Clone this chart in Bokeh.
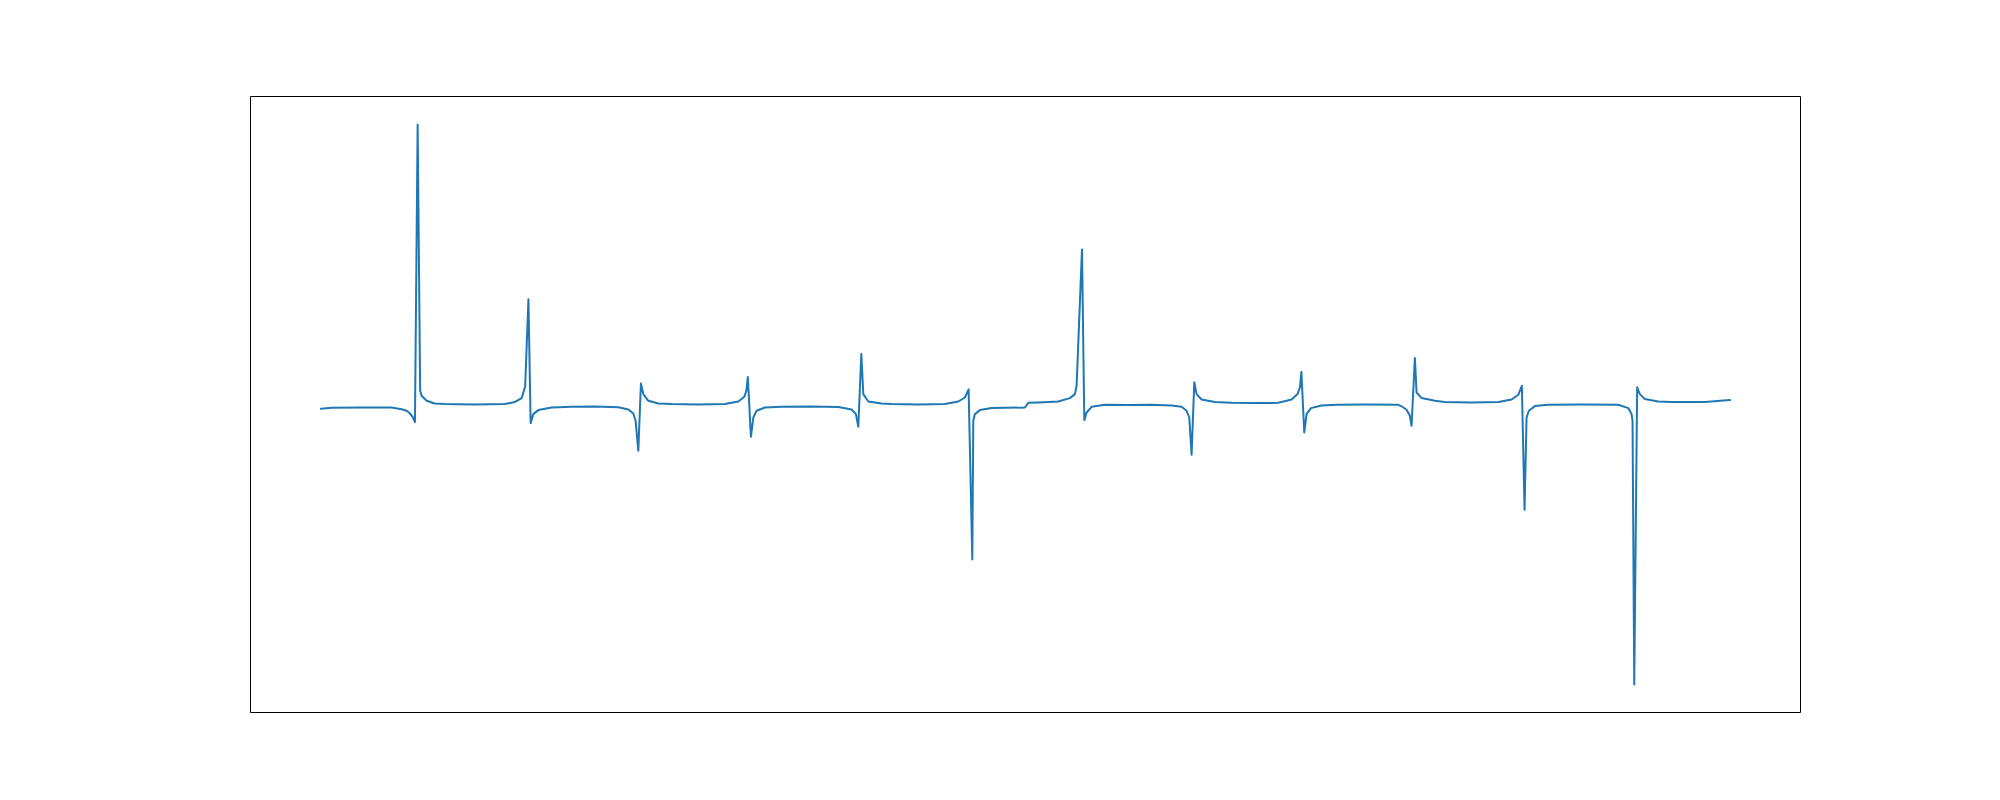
from bokeh.plotting import figure
from bokeh.models import Range1d
from bokeh.embed import file_html
from bokeh.resources import INLINE

# signal samples (time, amplitude)
t = [0.000, 0.107, 0.407, 0.707, 0.807, 0.857, 0.890, 0.917, 0.940, 0.967,
     0.992, 1.007, 1.057, 1.137, 1.237, 1.537, 1.837, 1.937, 2.007, 2.042,
     2.075, 2.097, 2.124, 2.174, 2.307, 2.507, 2.740, 2.974, 3.074, 3.124,
     3.147, 3.174, 3.200, 3.224, 3.274, 3.374, 3.507, 3.774, 4.040, 4.174,
     4.234, 4.254, 4.269, 4.300, 4.324, 4.357, 4.440, 4.607, 4.890, 5.174,
     5.307, 5.350, 5.374, 5.404, 5.424, 5.474, 5.607, 5.707, 5.974, 6.240,
     6.374, 6.440, 6.477, 6.514, 6.524, 6.540, 6.590, 6.707, 7.040, 7.074,
     7.174, 7.374, 7.490, 7.540, 7.557, 7.611, 7.634, 7.657, 7.707, 7.840,
     8.074, 8.307, 8.507, 8.607, 8.657, 8.684, 8.707, 8.734, 8.757, 8.807,
     8.940, 9.107, 9.340, 9.574, 9.707, 9.767, 9.790, 9.805, 9.834, 9.857,
     9.900, 10.007, 10.157, 10.465, 10.774, 10.807, 10.857, 10.890, 10.907, 10.940,
     10.957, 11.007, 11.140, 11.237, 11.507, 11.777, 11.907, 11.974, 12.010, 12.037,
     12.057, 12.080, 12.140, 12.274, 12.624, 12.974, 13.074, 13.107, 13.117, 13.134,
     13.163, 13.190, 13.240, 13.374, 13.507, 13.840, 14.092]

amplitude = [-0.40, -0.30, -0.27, -0.28, -0.45, -0.60, -0.87, -1.20, -1.73, 28.03,
             1.40, 0.90, 0.40, 0.13, 0.07, 0.02, 0.07, 0.27, 0.67, 1.80,
             10.55, -1.83, -0.93, -0.53, -0.27, -0.20, -0.17, -0.25, -0.47, -0.87,
             -1.60, -4.60, 2.13, 1.07, 0.40, 0.13, 0.07, 0.03, 0.07, 0.33,
             0.80, 1.40, 2.77, -3.20, -1.27, -0.60, -0.27, -0.20, -0.17, -0.22,
             -0.47, -0.93, -2.20, 5.07, 1.07, 0.33, 0.13, 0.07, 0.03, 0.07,
             0.33, 0.73, 1.55, -15.47, -1.60, -0.93, -0.53, -0.33, -0.27, 0.20,
             0.23, 0.33, 0.67, 1.07, 1.90, 15.53, -1.53, -0.77, -0.20, 0.00,
             -0.03, 0.00, -0.07, -0.20, -0.60, -1.27, -5.00, 2.25, 1.07, 0.53,
             0.27, 0.20, 0.17, 0.20, 0.53, 1.07, 1.73, 3.28, -2.77, -0.93,
             -0.33, -0.07, 0.00, 0.03, 0.00, -0.15, -0.50, -1.10, -2.10, 4.69,
             1.23, 0.67, 0.40, 0.27, 0.24, 0.27, 0.53, 1.00, 1.90, -10.49,
             -1.27, -0.60, -0.13, 0.00, 0.03, 0.00, -0.33, -0.93, -1.60, -27.97,
             1.75, 1.07, 0.57, 0.33, 0.27, 0.27, 0.47]

xmin, xmax = min(t), max(t)
ymin, ymax = min(amplitude), max(amplitude)
xpad = (xmax - xmin) * 0.05
ypad = (ymax - ymin) * 0.05

p = figure(width=2000, height=800, output_backend="svg", toolbar_location=None,
           x_range=Range1d(xmin - xpad, xmax + xpad),
           y_range=Range1d(ymin - ypad, ymax + ypad),
           min_border_left=250, min_border_right=200,
           min_border_top=96, min_border_bottom=88)

p.line(t, amplitude, line_color="#1f77b4", line_width=2,
       line_join="round", line_cap="round")

p.axis.visible = False
p.grid.visible = False
p.outline_line_color = "black"
p.outline_line_width = 1
p.background_fill_color = "white"
p.border_fill_color = "white"

open("out.html", "w").write(file_html(p, INLINE))
